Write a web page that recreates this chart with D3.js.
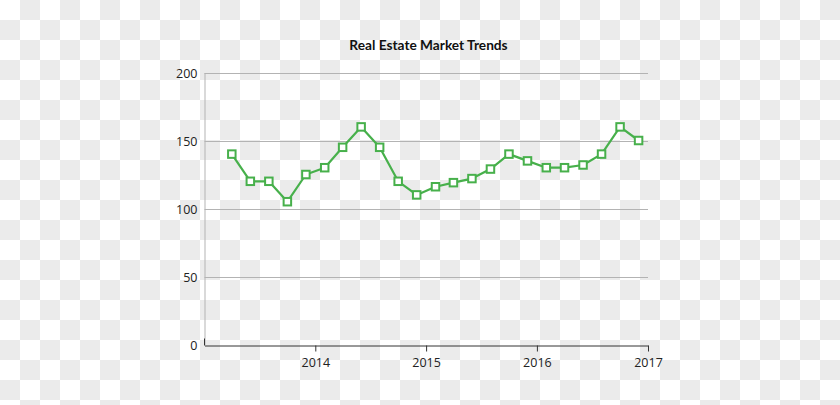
<!DOCTYPE html>
<html>
<head>
<meta charset="utf-8">
<script src="https://cdn.jsdelivr.net/npm/d3@7"></script>
<style>
  html, body { margin: 0; padding: 0; }
  svg { display: block; }
</style>
</head>
<body>
<svg id="chart" width="840" height="405"></svg>
<script>
const title = "Real Estate Market Trends";
const months = ["2013-04","2013-06","2013-08","2013-10","2013-12",
  "2014-02","2014-04","2014-06","2014-08","2014-10","2014-12",
  "2015-02","2015-04","2015-06","2015-08","2015-10","2015-12",
  "2016-02","2016-04","2016-06","2016-08","2016-10","2016-12"];
const values = [140,120,120,105,125,130,145,160,145,120,110,
  116,119,122,129,140,135,130,130,132,140,160,150];
const yTicks = [0,50,100,150,200];
const xTickYears = ["2014","2015","2016","2017"];

const parse = d3.timeParse("%Y-%m");
const data = months.map((m,i) => ({date: parse(m), value: values[i]}));

const svg = d3.select("#chart");
const W = 840, H = 405;
const margin = {left: 204.5, right: 192, top: 72.5, bottom: 60.5};

// checkerboard background
const defs = svg.append("defs");
const pat = defs.append("pattern").attr("id","checker")
  .attr("width",40).attr("height",40).attr("patternUnits","userSpaceOnUse");
pat.append("rect").attr("width",40).attr("height",40).attr("fill","#ffffff");
pat.append("rect").attr("x",20).attr("y",0).attr("width",20).attr("height",20).attr("fill","#ebebeb");
pat.append("rect").attr("x",0).attr("y",20).attr("width",20).attr("height",20).attr("fill","#ebebeb");
svg.append("rect").attr("width",W).attr("height",H).attr("fill","url(#checker)");

const x = d3.scaleTime()
  .domain([new Date(2013,0,1), new Date(2017,0,1)])
  .range([margin.left, W - margin.right]);
const y = d3.scaleLinear().domain([0,200]).range([H - margin.bottom, margin.top]);

const font = "'Open Sans', 'Lato', sans-serif";

// title
svg.append("text")
  .attr("x", 428.5).attr("y", 50)
  .attr("text-anchor","middle")
  .attr("font-family", "Lato, 'Open Sans', sans-serif")
  .attr("font-weight","bold")
  .attr("font-size", 13.7)
  .attr("fill","#111")
  .text(title);

// gridlines
svg.append("g").selectAll("line")
  .data(yTicks.filter(d => d > 0))
  .join("line")
  .attr("x1", margin.left).attr("x2", W - margin.right)
  .attr("y1", d => Math.round(y(d)) + 0.5).attr("y2", d => Math.round(y(d)) + 0.5)
  .attr("stroke","#b3b3b3").attr("stroke-width",1);

// y axis
const yAxis = svg.append("g")
  .attr("transform", `translate(${margin.left},0)`)
  .call(d3.axisLeft(y).tickValues(yTicks).tickSize(0).tickPadding(7));
yAxis.select(".domain").attr("stroke","#b3b3b3");
yAxis.selectAll("text")
  .attr("font-family", font).attr("font-size", 12.5).attr("fill","#222")
  .attr("dy","0.4em");

// x axis
const xAxis = svg.append("g")
  .attr("transform", `translate(0,${Math.round(y(0)) + 0.5})`)
  .call(d3.axisBottom(x)
    .tickValues(xTickYears.map(s => d3.timeParse("%Y")(s)))
    .tickFormat(d3.timeFormat("%Y"))
    .tickSizeInner(6).tickSizeOuter(0).tickPadding(7));
xAxis.select(".domain").attr("stroke","#333");
xAxis.selectAll(".tick line").attr("stroke","#333");
xAxis.selectAll("text")
  .attr("font-family", font).attr("font-size", 12.5).attr("fill","#222");
// small upward corner tick
xAxis.append("line")
  .attr("x1", margin.left).attr("x2", margin.left)
  .attr("y1", 0).attr("y2", -7)
  .attr("stroke","#333");

// line
const green = "#47b04b";
svg.append("path")
  .datum(data)
  .attr("fill","none")
  .attr("stroke", green)
  .attr("stroke-width", 2.2)
  .attr("stroke-linejoin","round")
  .attr("d", d3.line().x(d => x(d.date)).y(d => y(d.value)));

// markers
const s = 7.5;
svg.append("g").selectAll("rect")
  .data(data)
  .join("rect")
  .attr("x", d => x(d.date) - s/2)
  .attr("y", d => y(d.value) - s/2)
  .attr("width", s).attr("height", s)
  .attr("fill","#ffffff")
  .attr("stroke", green)
  .attr("stroke-width", 2);
</script>
</body>
</html>
